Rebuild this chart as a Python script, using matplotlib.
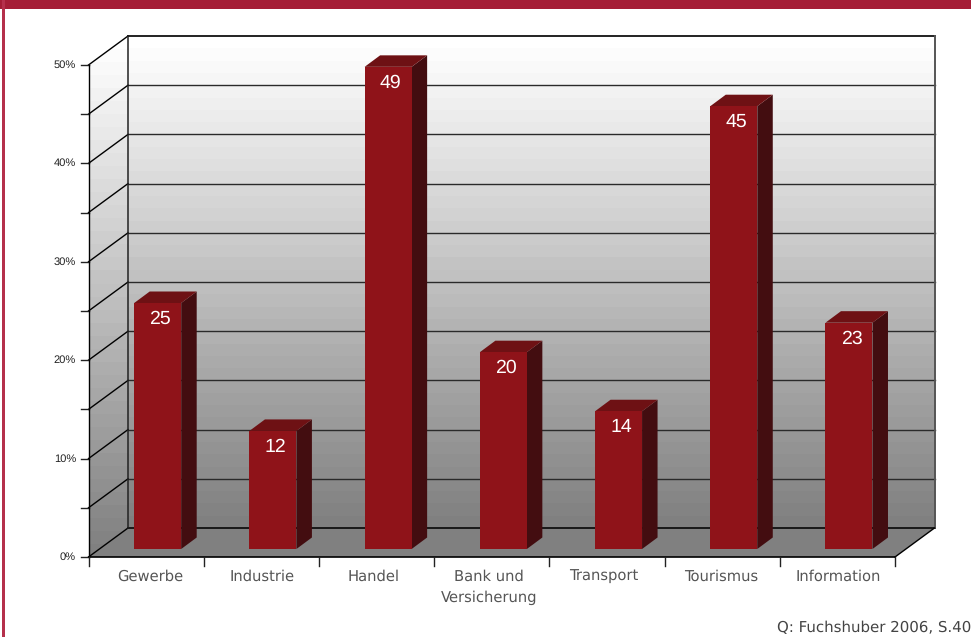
import numpy as np
import matplotlib
matplotlib.use("Agg")
import matplotlib.pyplot as plt
from matplotlib.patches import Polygon, Rectangle

# Survey results per sector (percent)
categories = ["Gewerbe", "Industrie", "Handel", "Bank und\nVersicherung",
              "Transport", "Tourismus", "Information"]
values = [25, 12, 49, 20, 14, 45, 23]
y_ticks = [0, 5, 10, 15, 20, 25, 30, 35, 40, 45, 50]
source = "Q: Fuchshuber 2006, S.40"

plt.rcParams["font.family"] = "DejaVu Sans"
plt.rcParams["text.hinting"] = "no_hinting"

W, H = 971, 637
fig = plt.figure(figsize=(W / 100, H / 100), dpi=100, facecolor="white")

# The axes frame is the front plane of the 3D box
x0, x1, y0, y50 = 88.5, 895.0, 557.0, 65.0
ax = fig.add_axes([x0 / W, 1 - y0 / H, (x1 - x0) / W, (y0 - y50) / H])
ax.axis("off")

N = len(categories)
TOP = y_ticks[-1]
ux = (x1 - x0) / N
uy = (y0 - y50) / TOP
# Depth of the box, expressed in data units
DX, DY = 39.5 / ux, 29.0 / uy


def shaded(poly_pts, extent, zorder):
    """Fill a polygon with a stepped white-to-grey vertical gradient."""
    levels = np.linspace(0.5, 1.0, 40).reshape(-1, 1)
    im = ax.imshow(levels, origin="lower", cmap="gray", vmin=0, vmax=1,
                   extent=extent, aspect="auto", zorder=zorder,
                   interpolation="nearest")
    clip = Polygon(poly_pts, closed=True, transform=ax.transData,
                   fc="none", ec="none", clip_on=False)
    ax.add_patch(clip)
    im.set_clip_box(fig.bbox)
    im.set_clip_path(clip)


# Back wall
shaded([(DX, DY), (N + DX, DY), (N + DX, TOP + DY), (DX, TOP + DY)],
       (DX, N + DX, DY, TOP + DY), 1)
# Left wall
shaded([(0, 0), (DX, DY), (DX, TOP + DY), (0, TOP)],
       (0, DX, 0, TOP + DY), 1)
ax.set_xlim(0, N)
ax.set_ylim(0, TOP)

# Floor
ax.add_patch(Polygon([(0, 0), (N, 0), (N + DX, DY), (DX, DY)], closed=True,
                     fc="#808080", ec="none", zorder=2, clip_on=False))

# Grid on the back and left walls
for t in y_ticks:
    strong = t in (0, TOP)
    ax.plot([DX, N + DX], [t + DY, t + DY], color="#111111" if strong else "#2a2a2a",
            lw=1.3 if strong else 1.0, zorder=3, clip_on=False)
    ax.plot([0, DX], [t, t + DY], color="black", lw=1.0, zorder=3, clip_on=False)
    ax.plot([-8 / ux, 0], [t, t], color="#222222", lw=1.0, zorder=3, clip_on=False)

# Box edges
ax.plot([0, 0], [0, TOP], color="black", lw=1.0, zorder=3, clip_on=False)
ax.plot([DX, DX], [DY, TOP + DY], color="#222222", lw=1.1, zorder=3, clip_on=False)
ax.plot([N + DX, N + DX], [DY, TOP + DY], color="#555555", lw=1.4, zorder=3, clip_on=False)
ax.plot([0, N], [0, 0], color="black", lw=1.2, zorder=3, clip_on=False)
ax.plot([N, N + DX], [0, DY], color="black", lw=1.0, zorder=3, clip_on=False)

# Category ticks under the floor edge
for i in range(N + 1):
    ax.plot([i, i], [0, -8.5 / uy], color="#222222", lw=1.0, zorder=3, clip_on=False)

# Percent labels every 10 %
for t in y_ticks[::2]:
    ax.text(-12.5 / ux, t, f"{t}%", ha="right", va="center", fontsize=8,
            family="Liberation Sans", color="#222222", clip_on=False)

# Bars: each stands on the floor, set back from the front edge
BAR_W = 47.0 / ux
BAR_DX, BAR_DY = 15.5 / ux, 11.5 / uy
SET_X, SET_Y = 45.7 / ux, 8.0 / uy
for i, v in enumerate(values):
    left = i + SET_X
    right = left + BAR_W
    b = SET_Y
    t = b + v
    ax.add_patch(Polygon([(right, b), (right + BAR_DX, b + BAR_DY),
                          (right + BAR_DX, t + BAR_DY), (right, t)], closed=True,
                         fc="#430D10", ec="none", zorder=4, clip_on=False))
    ax.add_patch(Polygon([(left, t), (right, t), (right + BAR_DX, t + BAR_DY),
                          (left + BAR_DX, t + BAR_DY)], closed=True,
                         fc="#6E1114", ec="none", zorder=4, clip_on=False))
    ax.add_patch(Rectangle((left, b), BAR_W, v, fc="#8F1319", ec="none",
                           zorder=5, clip_on=False))
    ax.text((left + right) / 2 + 2.5 / ux, t - 16 / uy, str(v), ha="center", va="center",
            color="white", fontsize=14, family="Liberation Sans", zorder=6)

# Category labels, one text per line on common baselines
label_shift = [4.5, 1, -2.5, -3, -3, -1, 0.5]
for i, c in enumerate(categories):
    for k, line in enumerate(c.split("\n")):
        ax.text(i + 0.5 + label_shift[i] / ux, (-23.5 - 21 * k) / uy, line,
                ha="center", va="baseline", fontsize=10.6, family="DejaVu Sans",
                color="#555555", clip_on=False)

# Page frame and source note
fig.add_artist(Rectangle((0, 1 - 8.5 / H), 1, 8.5 / H, transform=fig.transFigure,
                         fc="#A51D36", ec="none"))
fig.add_artist(Rectangle((2 / W, 0), 2.8 / W, 1, transform=fig.transFigure,
                         fc="#B5304B", ec="none"))
fig.text(971 / W, 1 - 628 / H, source, ha="right", va="center", fontsize=10.8,
         family="DejaVu Sans", color="#444444")

fig.savefig("out.png", dpi=100, facecolor="white")
